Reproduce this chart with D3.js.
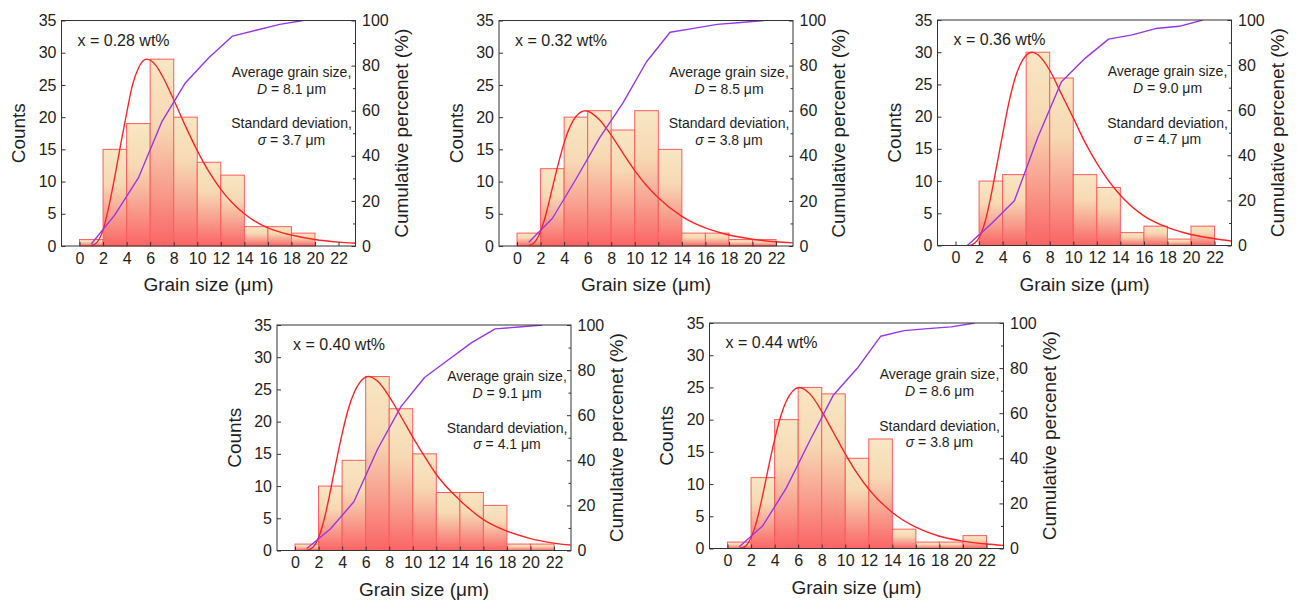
<!DOCTYPE html>
<html>
<head>
<meta charset="utf-8">
<script src="https://cdn.jsdelivr.net/npm/d3@7"></script>
<style>
  html, body { margin: 0; padding: 0; background: #fff; }
  svg { display: block; font-family: "Liberation Sans", Arial, Helvetica, sans-serif; }
</style>
</head>
<body>
<svg id="chart" width="1297" height="602"></svg>
<script>
// ---- data ----------------------------------------------------------------
// histogram bins: lower edges in µm, each bin 2 µm wide
const binStarts = [0, 2, 4, 6, 8, 10, 12, 14, 16, 18, 20];
const binWidth = 2;

const xTicks = [0, 2, 4, 6, 8, 10, 12, 14, 16, 18, 20, 22];
const countTicks = [0, 5, 10, 15, 20, 25, 30, 35];
const percentTicks = [0, 20, 40, 60, 80, 100];
const percentMinorTicks = [10, 30, 50, 70, 90];

const compositions = ["x = 0.28 wt%", "x = 0.32 wt%", "x = 0.36 wt%", "x = 0.40 wt%", "x = 0.44 wt%"];
const meanSizes = ["8.1", "8.5", "9.0", "9.1", "8.6"];
const stdDevs = ["3.7", "3.8", "4.7", "4.1", "3.8"];

// grain counts per bin
const counts028 = [1, 15, 19, 29, 20, 13, 11, 3, 3, 2, 0];
const counts032 = [2, 12, 20, 21, 18, 21, 15, 2, 2, 1, 1];
const counts036 = [0, 10, 11, 30, 26, 11, 9, 2, 3, 1, 3];
const counts040 = [1, 10, 14, 27, 22, 15, 9, 9, 7, 1, 1];
const counts044 = [1, 11, 20, 25, 24, 14, 17, 3, 1, 1, 2];

// cumulative percent at bin centres
const cumX = [1, 3, 5, 7, 9, 11, 13, 15, 17, 19, 21];
const cum028 = [0.9, 13.8, 30.2, 55.2, 72.4, 83.6, 93.1, 95.7, 98.3, 100];
const cum032 = [1.7, 12.2, 29.6, 47.8, 63.5, 81.7, 94.8, 96.5, 98.3, 99.1, 100];
const cum036 = [0, 9.4, 19.8, 48.1, 72.6, 83.0, 91.5, 93.4, 96.2, 97.2, 100];
const cum040 = [0.9, 9.5, 21.6, 44.8, 63.8, 76.7, 84.5, 92.2, 98.3, 99.1, 100];
const cum044 = [0.8, 10.1, 26.9, 47.9, 68.1, 79.8, 94.1, 96.6, 97.5, 98.3, 100];

// log-normal fit curves (grain size µm, counts)
const fitX028 = [1, 1.5, 2, 2.5, 3, 3.5, 4, 4.5, 5, 5.7, 6.5, 7, 8, 9, 10, 11, 12, 14, 16, 18, 20, 22, 23.4];
const fitY028 = [0.05, 0.6, 2.5, 6.2, 10.8, 15.8, 20.6, 25.0, 27.6, 29, 28.0, 26.5, 22.7, 18.6, 14.8, 11.5, 8.8, 5.0, 2.8, 1.7, 1.0, 0.6, 0.42];
const fitX032 = [1, 1.5, 2, 2.5, 3, 3.5, 4, 4.5, 5, 5.8, 7, 8, 9, 10, 11, 12, 14, 16, 18, 20, 22, 23.4];
const fitY032 = [0.05, 0.6, 2.3, 5.2, 9.0, 12.7, 16.0, 18.5, 20.1, 21, 19.6, 17.2, 14.4, 11.7, 9.4, 7.5, 4.6, 2.8, 1.7, 1.05, 0.65, 0.48];
const fitX036 = [1.2, 1.5, 2, 2.5, 3, 3.5, 4, 4.5, 5, 5.5, 6.5, 7, 8, 9, 10, 11, 12, 14, 16, 18, 20, 22, 23.4];
const fitY036 = [0, 0.2, 1.2, 3.6, 7.6, 12.4, 17.2, 21.9, 25.6, 28.1, 30, 29.6, 27.2, 23.5, 19.8, 16.0, 12.8, 7.8, 4.6, 2.8, 1.7, 1.05, 0.7];
const fitX040 = [1, 1.5, 2, 2.5, 3, 3.5, 4, 4.5, 5, 6.25, 7, 8, 9, 10, 11, 12, 14, 16, 18, 20, 22, 23.4];
const fitY040 = [0.03, 0.46, 2.0, 5.0, 9.2, 13.8, 18.1, 21.8, 24.4, 27, 26.3, 23.9, 20.8, 17.6, 14.6, 11.8, 7.8, 4.8, 3.0, 1.85, 1.15, 0.85];
const fitX044 = [1, 1.5, 2, 2.5, 3, 3.5, 4, 4.5, 5, 6.1, 7, 8, 9, 10, 11, 12, 14, 16, 18, 20, 22, 23.4];
const fitY044 = [0.02, 0.34, 1.7, 4.4, 8.4, 12.8, 16.9, 20.4, 22.9, 25, 24.0, 21.3, 18.0, 14.7, 11.7, 9.2, 5.6, 3.3, 1.9, 1.15, 0.69, 0.48];

// ---- layout ----------------------------------------------------------------
const W = 294, H = 225.5;
const xDomain = [-1.53, 23.44];
const panelOrigins = [[61.5, 20.5], [499, 20.5], [937.5, 20], [277, 325], [709.5, 323]];

const panels = [
  { comp: compositions[0], D: meanSizes[0], sd: stdDevs[0], counts: counts028, cum: cum028, fitX: fitX028, fitY: fitY028 },
  { comp: compositions[1], D: meanSizes[1], sd: stdDevs[1], counts: counts032, cum: cum032, fitX: fitX032, fitY: fitY032 },
  { comp: compositions[2], D: meanSizes[2], sd: stdDevs[2], counts: counts036, cum: cum036, fitX: fitX036, fitY: fitY036 },
  { comp: compositions[3], D: meanSizes[3], sd: stdDevs[3], counts: counts040, cum: cum040, fitX: fitX040, fitY: fitY040 },
  { comp: compositions[4], D: meanSizes[4], sd: stdDevs[4], counts: counts044, cum: cum044, fitX: fitX044, fitY: fitY044 }
];

const TEXT = "#1e1e1e", AXIS = "#333";
const svg = d3.select("#chart");
const defs = svg.append("defs");

// vertical cream-to-red fill used by every bar
const grad = defs.append("linearGradient").attr("id", "barFill")
  .attr("x1", 0).attr("y1", 0).attr("x2", 0).attr("y2", 1);
[[0, "#f8e6c3"], [0.35, "#f7d9b4"], [0.7, "#f89c8d"], [1, "#fa6464"]].forEach(([o, c]) =>
  grad.append("stop").attr("offset", o).attr("stop-color", c));

function styleAxis(sel, fontSize) {
  sel.select(".domain").remove();
  sel.attr("font-family", null).attr("font-size", fontSize);
  sel.selectAll(".tick line").attr("stroke", AXIS).attr("stroke-width", 1);
  sel.selectAll(".tick text").attr("fill", TEXT);
}

panels.forEach((p, i) => {
  const [left, top] = panelOrigins[i];
  const g = svg.append("g").attr("transform", `translate(${left},${top})`);

  const x = d3.scaleLinear().domain(xDomain).range([0, W]);
  const y = d3.scaleLinear().domain([0, 35]).range([H, 0]);
  const yPct = d3.scaleLinear().domain([0, 100]).range([H, 0]);

  const clipId = `plotClip${i}`;
  defs.append("clipPath").attr("id", clipId)
    .append("rect").attr("width", W).attr("height", H);

  // histogram bars
  const bars = binStarts.map((b, k) => ({ x0: b, c: p.counts[k] })).filter(d => d.c > 0);
  g.append("g").selectAll("rect").data(bars).join("rect")
    .attr("x", d => x(d.x0))
    .attr("width", d => x(d.x0 + binWidth) - x(d.x0))
    .attr("y", d => y(d.c))
    .attr("height", d => y(0) - y(d.c))
    .attr("fill", "url(#barFill)")
    .attr("stroke", "#ff5c5c")
    .attr("stroke-width", 1);

  const plot = g.append("g").attr("clip-path", `url(#${clipId})`);

  // fitted distribution
  const fitLine = d3.line().x(d => x(d[0])).y(d => y(d[1])).curve(d3.curveMonotoneX);
  plot.append("path")
    .datum(p.fitX.map((v, k) => [v, p.fitY[k]]))
    .attr("d", fitLine)
    .attr("fill", "none").attr("stroke", "#ff2424").attr("stroke-width", 1.4);

  // cumulative percentage
  const cumLine = d3.line().x(d => x(d[0])).y(d => yPct(d[1]));
  plot.append("path")
    .datum(p.cum.map((v, k) => [cumX[k], v]))
    .attr("d", cumLine)
    .attr("fill", "none").attr("stroke", "#9836ee").attr("stroke-width", 1.4)
    .attr("stroke-linejoin", "round");

  // frame
  g.append("rect").attr("width", W).attr("height", H)
    .attr("fill", "none").attr("stroke", AXIS).attr("stroke-width", 1);

  // axes (ticks point inward)
  g.append("g").attr("transform", `translate(0,${H})`)
    .call(d3.axisBottom(x).tickValues(xTicks).tickSizeInner(-4).tickSizeOuter(0).tickPadding(6.5))
    .call(s => styleAxis(s, 16));
  g.append("g")
    .call(d3.axisLeft(y).tickValues(countTicks).tickSizeInner(-4).tickSizeOuter(0).tickPadding(5))
    .call(s => styleAxis(s, 16));
  g.append("g").attr("transform", `translate(${W},0)`)
    .call(d3.axisRight(yPct).tickValues(percentTicks).tickSizeInner(-4).tickSizeOuter(0).tickPadding(6.5))
    .call(s => styleAxis(s, 16));
  g.append("g").attr("transform", `translate(${W},0)`)
    .call(d3.axisRight(yPct).tickValues(percentMinorTicks).tickSizeInner(-2.5).tickSizeOuter(0).tickFormat(""))
    .call(s => styleAxis(s, 16));

  // axis titles
  g.append("text")
    .attr("transform", `translate(${-43},${H / 2}) rotate(-90)`)
    .attr("text-anchor", "middle").attr("dy", "0.35em")
    .attr("font-size", 19).attr("fill", TEXT).text("Counts");
  g.append("text")
    .attr("transform", `translate(${W + 45.5},${H / 2}) rotate(-90)`)
    .attr("text-anchor", "middle").attr("dy", "0.35em")
    .attr("font-size", 19).attr("fill", TEXT).text("Cumulative percenet (%)");
  g.append("text")
    .attr("x", W / 2).attr("y", H + 45)
    .attr("text-anchor", "middle")
    .attr("font-size", 19).attr("fill", TEXT).text("Grain size (μm)");

  // annotations
  g.append("text").attr("x", 16).attr("y", 25)
    .attr("font-size", 16).attr("fill", TEXT).text(p.comp);

  const note = g.append("g").attr("font-size", 14).attr("fill", TEXT).attr("text-anchor", "middle");
  const cx = W - 64;
  note.append("text").attr("x", cx).attr("y", 56).text("Average grain size,");
  const dLine = note.append("text").attr("x", cx).attr("y", 73);
  dLine.append("tspan").attr("font-style", "italic").text("D");
  dLine.append("tspan").text(` = ${p.D} μm`);
  note.append("text").attr("x", cx).attr("y", 107.5).text("Standard deviation,");
  const sLine = note.append("text").attr("x", cx).attr("y", 124);
  sLine.append("tspan").attr("font-style", "italic").text("σ");
  sLine.append("tspan").text(` = ${p.sd} μm`);
});
</script>
</body>
</html>
